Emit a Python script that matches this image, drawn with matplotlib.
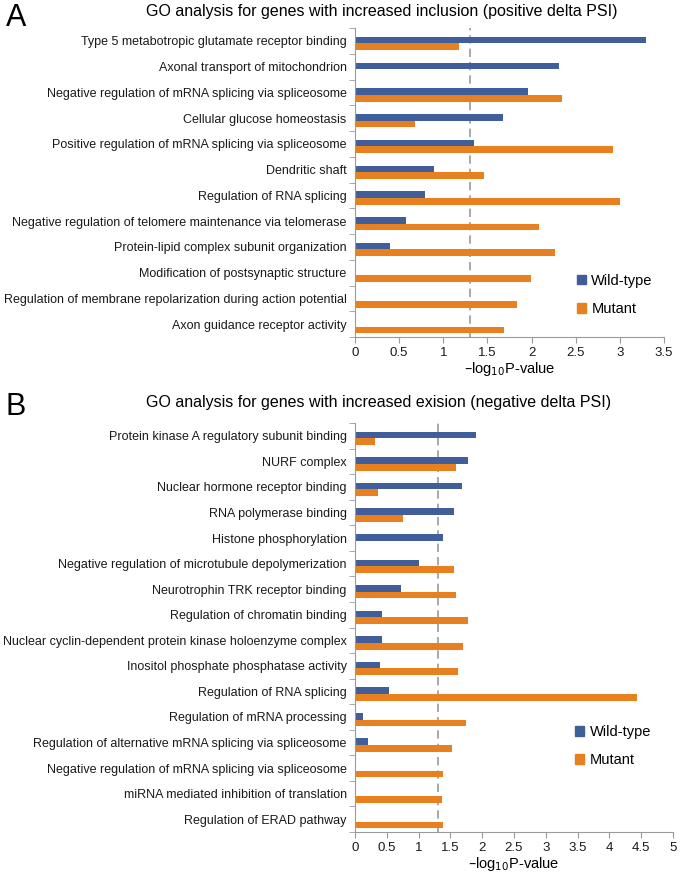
import numpy as np
import matplotlib
matplotlib.use('Agg')
import matplotlib.pyplot as plt
from matplotlib.patches import Patch

plt.rcParams['font.family'] = ['Liberation Sans', 'DejaVu Sans']

# Panel A data
terms_a = ["Type 5 metabotropic glutamate receptor binding",
           "Axonal transport of mitochondrion",
           "Negative regulation of mRNA splicing via spliceosome",
           "Cellular glucose homeostasis",
           "Positive regulation of mRNA splicing via spliceosome",
           "Dendritic shaft",
           "Regulation of RNA splicing",
           "Negative regulation of telomere maintenance via telomerase",
           "Protein-lipid complex subunit organization",
           "Modification of postsynaptic structure",
           "Regulation of membrane repolarization during action potential",
           "Axon guidance receptor activity"]
wt_a = [3.30, 2.31, 1.955, 1.68, 1.35, 0.89, 0.79, 0.58, 0.40, np.nan, np.nan, np.nan]
mut_a = [1.18, np.nan, 2.345, 0.68, 2.92, 1.46, 3.0, 2.09, 2.27, 1.99, 1.83, 1.69]

# Panel B data
terms_b = ["Protein kinase A regulatory subunit binding",
           "NURF complex",
           "Nuclear hormone receptor binding",
           "RNA polymerase binding",
           "Histone phosphorylation",
           "Negative regulation of microtubule depolymerization",
           "Neurotrophin TRK receptor binding",
           "Regulation of chromatin binding",
           "Nuclear cyclin-dependent protein kinase holoenzyme complex",
           "Inositol phosphate phosphatase activity",
           "Regulation of RNA splicing",
           "Regulation of mRNA processing",
           "Regulation of alternative mRNA splicing via spliceosome",
           "Negative regulation of mRNA splicing via spliceosome",
           "miRNA mediated inhibition of translation",
           "Regulation of ERAD pathway"]
wt_b = [1.90, 1.78, 1.69, 1.56, 1.38, 1.00, 0.72, 0.43, 0.42, 0.40, 0.53, 0.13, 0.21,
        np.nan, np.nan, np.nan]
mut_b = [0.32, 1.59, 0.37, 0.75, np.nan, 1.56, 1.59, 1.78, 1.70, 1.62, 4.43, 1.75, 1.53,
         1.39, 1.37, 1.39]

threshold = -np.log10(0.05)

blue = '#3f5e9a'
orange = '#e8801f'
grey = '#9a9a9a'

fig = plt.figure(figsize=(6.8, 8.76), dpi=100)
ax_a = fig.add_axes([0.522, 0.6153, 0.4544, 0.3527])
ax_b = fig.add_axes([0.522, 0.0502, 0.4676, 0.4669])


def draw(ax, terms, wt, mut, xmax, leg_xy):
    y = np.arange(len(terms))
    h = 0.26
    off = 0.1  # bars sit slightly below the label centre
    ax.barh(y + off - h / 2, wt, height=h, color=blue, label='Wild-type')
    ax.barh(y + off + h / 2, mut, height=h, color=orange, label='Mutant')
    ax.axvline(threshold, color=grey, ls=(0, (5, 3)), lw=1.2, zorder=0)
    ax.set_ylim(len(terms) - 0.5, -0.5)
    ax.set_xlim(0, xmax)
    ticks = np.arange(0, xmax + 0.01, 0.5)
    ax.set_xticks(ticks)
    ax.set_xticklabels(['%g' % v for v in ticks])
    ax.set_yticks(y)
    ax.set_yticklabels(terms, fontsize=9, color='#1a1a1a')
    ax.set_yticks(np.arange(-0.5, len(terms)), minor=True)
    ax.tick_params(axis='y', which='major', length=0, pad=6)
    ax.tick_params(axis='y', which='minor', length=4, color=grey, direction='out')
    ax.tick_params(axis='x', length=4, color=grey, labelsize=9.5, labelcolor='#1a1a1a', pad=3)
    for s in ['top', 'right']:
        ax.spines[s].set_visible(False)
    for s in ['left', 'bottom']:
        ax.spines[s].set_color(grey)
    ax.set_xlabel('\u2013log$_{10}$P-value', fontsize=10.5, labelpad=1)
    handles = [Patch(color=blue), Patch(color=orange)]
    ax.legend(handles, ['Wild-type', 'Mutant'], loc='upper left', bbox_to_anchor=leg_xy,
              frameon=False, fontsize=10.5, handlelength=0.65, handleheight=0.65,
              handletextpad=0.35, labelspacing=1.0, borderpad=0, borderaxespad=0)


draw(ax_a, terms_a, wt_a, mut_a, 3.5, (0.718, 0.205))
draw(ax_b, terms_b, wt_b, mut_b, 5.0, (0.692, 0.262))

fig.text(0.561, 0.9874, 'GO analysis for genes with increased inclusion (positive delta PSI)',
         ha='center', va='center', fontsize=11.5)
fig.text(0.556, 0.541, 'GO analysis for genes with increased exision (negative delta PSI)',
         ha='center', va='center', fontsize=11.5)
fig.text(0.008, 0.970, 'A', fontsize=22, ha='left', va='baseline')
fig.text(0.008, 0.526, 'B', fontsize=22, ha='left', va='baseline')

fig.savefig('out.png', dpi=100)
